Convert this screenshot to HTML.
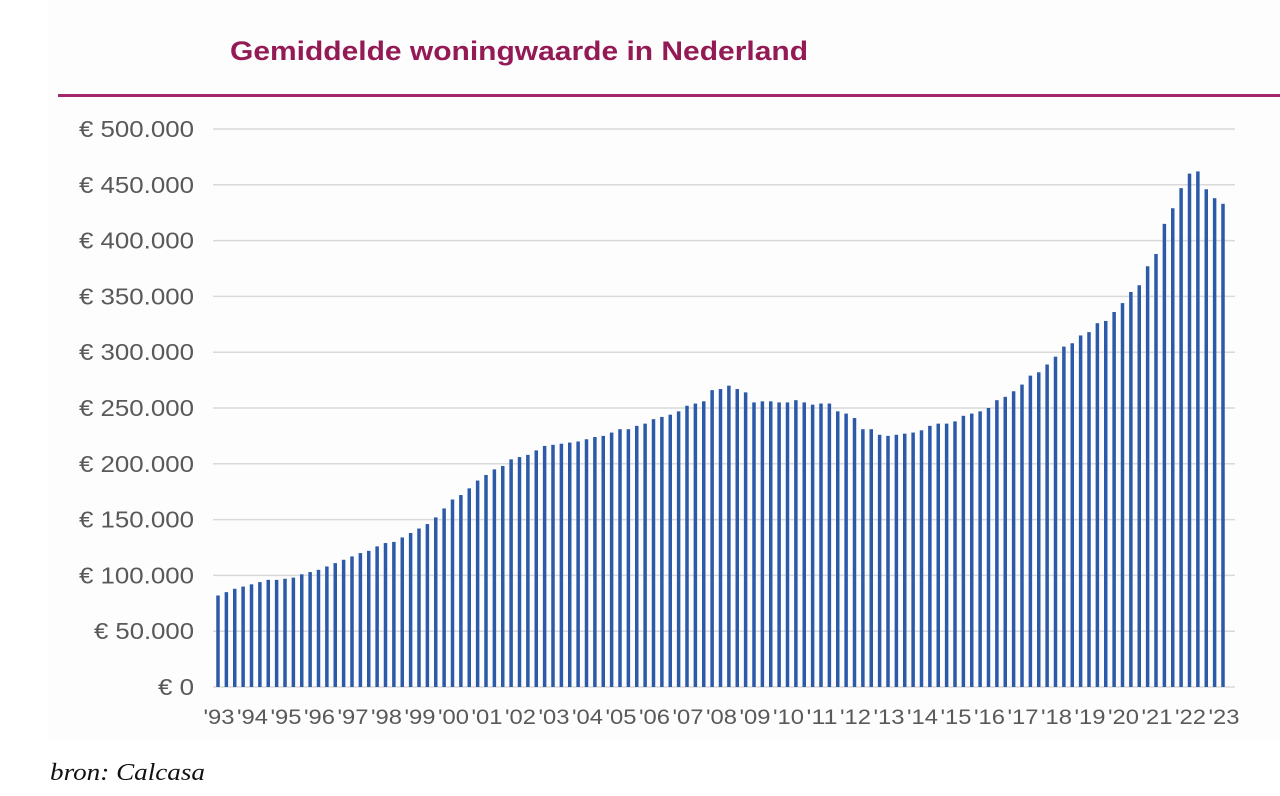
<!DOCTYPE html>
<html><head><meta charset="utf-8"><style>
body{margin:0;background:#fff;width:1280px;height:791px;overflow:hidden}
</style></head><body>
<svg width="1280" height="791" xmlns="http://www.w3.org/2000/svg" font-family="Liberation Sans, Arial, sans-serif">
<rect x="48" y="0" width="1232" height="740" fill="#fdfdfd"/>
<text x="230" y="60" font-size="27" font-weight="bold" fill="#941a55" textLength="578" lengthAdjust="spacingAndGlyphs">Gemiddelde woningwaarde in Nederland</text>
<rect x="58" y="94" width="1222" height="3" fill="#a3276a"/>
<g id="grid" stroke="#d9d9d9" stroke-width="1.5"></g>
<g id="ylab" font-size="23" fill="#595959" text-anchor="end"></g>
<g id="bars" fill="#2c5aa8"></g>
<g id="xlab" font-size="21" fill="#595959" text-anchor="middle"></g>
<text x="50" y="780" font-family="Liberation Serif, serif" font-style="italic" font-size="24" fill="#111" textLength="155" lengthAdjust="spacingAndGlyphs">bron: Calcasa</text>
</svg>
<script>
var ns="http://www.w3.org/2000/svg";
function el(t,a,txt){var e=document.createElementNS(ns,t);for(var k in a)e.setAttribute(k,a[k]);if(txt!=null)e.textContent=txt;return e;}
var y0=687,pp=558/500;
var labs=["€ 0","€ 50.000","€ 100.000","€ 150.000","€ 200.000","€ 250.000","€ 300.000","€ 350.000","€ 400.000","€ 450.000","€ 500.000"];
for(var i=0;i<=10;i++){var y=y0-i*55.8;
document.getElementById('grid').appendChild(el('line',{x1:213,x2:1235,y1:y,y2:y}));
var w=i==0?36:(i==1?100:115);
document.getElementById('ylab').appendChild(el('text',{x:194,y:y+8,textLength:w,lengthAdjust:"spacingAndGlyphs"},labs[i]));}
var v=[82,85,88,90,92,94,96,96,97,98,101,103,105,108,111,114,117,120,122,126,129,130,134,138,142,146,152,160,168,172,178,185,190,195,198,204,206,208,212,216,217,218,219,220,222,224,225,228,231,231,234,236,240,242,244,247,252,254,256,
266,267,270,267,264,255,256,256,255,255,257,255,253,254,254,247,245,241,231,231,226,225,226,227,228,230,234,236,236,238,243,245,247,250,257,260,265,271,279,282,289,296,305,308,315,318,326,328,336,344,354,360,377,388,415,429,447,460,462,446,438,433];
var pitch=(1223-218)/120;
for(var i=0;i<v.length;i++){var x=218+i*pitch,h=v[i]*pp;
document.getElementById('bars').appendChild(el('rect',{x:x-1.75,y:y0-h,width:3.5,height:h}));}
for(var k=0;k<31;k++){var yr=(93+k)%100;var s="'"+(yr<10?"0"+yr:yr);
document.getElementById('xlab').appendChild(el('text',{x:218+4*k*pitch+1,y:724,textLength:31,lengthAdjust:"spacingAndGlyphs"},s));}
</script>
</body></html>
